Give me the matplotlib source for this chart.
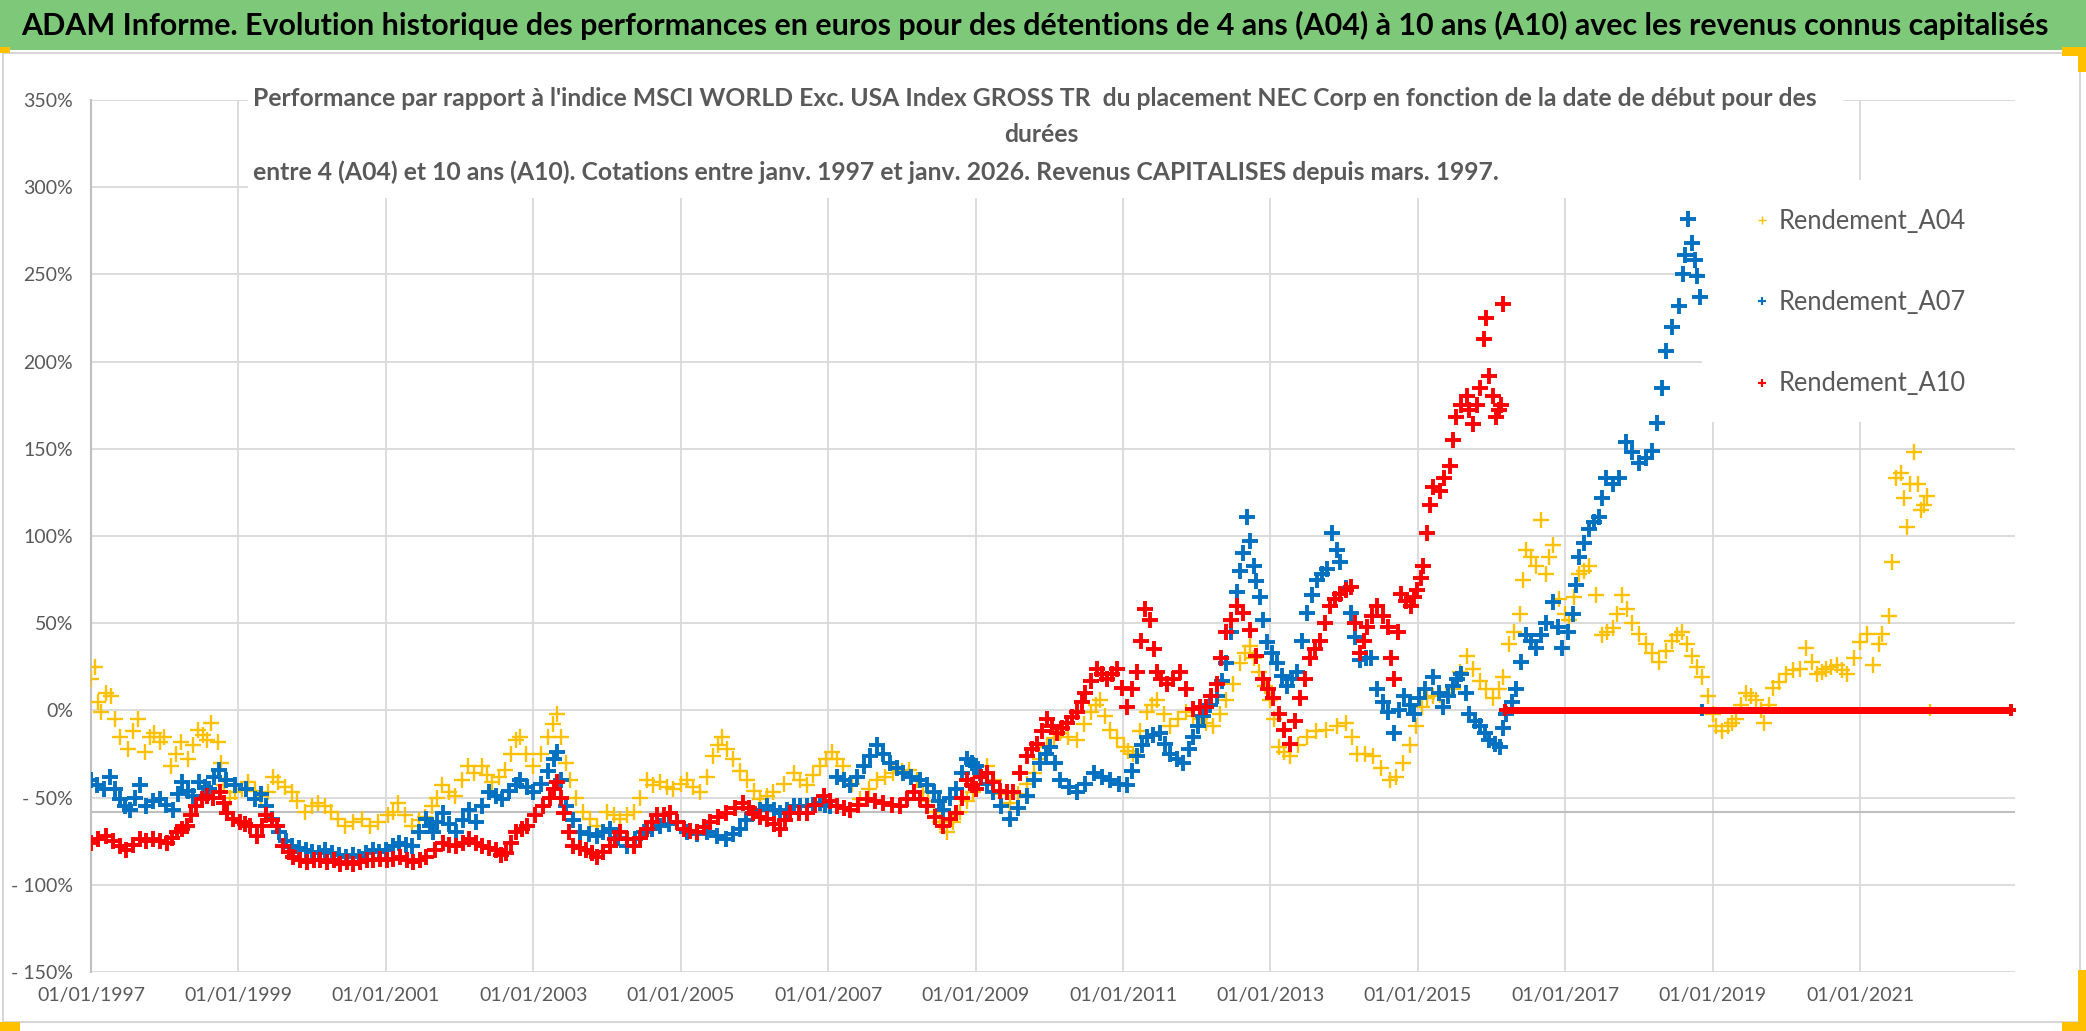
import numpy as np
import matplotlib
matplotlib.use('Agg')
import matplotlib.pyplot as plt
from matplotlib.lines import Line2D
from matplotlib.patches import Rectangle
from matplotlib.ticker import FixedLocator, FuncFormatter

plt.rcParams['font.family'] = ['Lato', 'DejaVu Sans']

# taille finale en pixels
W, H = 2086, 1031

# ---- données : (année décimale, performance en %)
a04_points = [
    (1997.00, 18), (1997.05, 25), (1997.10, 5), (1997.14, -1), (1997.20, 10), (1997.27, 8),
    (1997.33, -5), (1997.40, -15), (1997.50, -22), (1997.57, -12), (1997.64, -5), (1997.73, -24),
    (1997.80, -15), (1997.86, -13), (1997.93, -18), (1997.99, -15), (1998.08, -32), (1998.15, -25),
    (1998.22, -18), (1998.31, -28), (1998.38, -20), (1998.45, -11), (1998.52, -14), (1998.58, -17),
    (1998.63, -7), (1998.72, -18), (1998.77, -30), (1998.81, -43), (1998.88, -50), (1998.95, -47),
    (1999.05, -45), (1999.13, -41), (1999.22, -46), (1999.31, -49), (1999.40, -47), (1999.47, -38),
    (1999.54, -41), (1999.63, -44), (1999.72, -47), (1999.80, -52), (1999.90, -58), (2000.00, -55),
    (2000.08, -53), (2000.17, -55), (2000.26, -58), (2000.35, -62), (2000.44, -66), (2000.55, -64),
    (2000.67, -62), (2000.78, -66), (2000.90, -64), (2001.03, -60), (2001.10, -58), (2001.17, -53),
    (2001.26, -60), (2001.35, -66), (2001.45, -63), (2001.53, -61), (2001.62, -55), (2001.70, -50),
    (2001.76, -43), (2001.85, -47), (2001.94, -49), (2002.03, -40), (2002.12, -32), (2002.20, -36),
    (2002.30, -32), (2002.37, -37), (2002.44, -41), (2002.53, -38), (2002.62, -34), (2002.70, -25),
    (2002.76, -17), (2002.82, -15), (2002.90, -25), (2003.00, -32), (2003.10, -25), (2003.20, -15),
    (2003.27, -8), (2003.32, -2), (2003.38, -15), (2003.44, -30), (2003.50, -40), (2003.58, -50),
    (2003.68, -58), (2003.77, -62), (2003.86, -66), (2004.00, -58), (2004.09, -60), (2004.18, -62),
    (2004.27, -60), (2004.36, -58), (2004.45, -50), (2004.54, -40), (2004.63, -43), (2004.72, -41),
    (2004.81, -44), (2004.90, -45), (2005.00, -42), (2005.08, -40), (2005.17, -44), (2005.26, -47),
    (2005.35, -38), (2005.44, -26), (2005.50, -20), (2005.56, -15), (2005.63, -22), (2005.71, -28),
    (2005.80, -35), (2005.90, -40), (2006.00, -46), (2006.08, -51), (2006.17, -49), (2006.25, -47),
    (2006.40, -42), (2006.53, -36), (2006.62, -40), (2006.71, -43), (2006.80, -37), (2006.89, -32),
    (2006.97, -28), (2007.05, -24), (2007.12, -28), (2007.20, -32), (2007.32, -42), (2007.43, -51),
    (2007.55, -45), (2007.66, -40), (2007.77, -38), (2007.88, -36), (2008.00, -35), (2008.10, -34),
    (2008.20, -40), (2008.28, -47), (2008.36, -52), (2008.43, -58), (2008.52, -64), (2008.61, -70),
    (2008.70, -64), (2008.79, -58), (2008.88, -52), (2008.97, -47), (2009.06, -38), (2009.15, -32),
    (2009.25, -40), (2009.35, -48), (2009.47, -53), (2009.58, -48), (2009.70, -42), (2009.79, -36),
    (2009.88, -28), (2009.97, -21), (2010.06, -16), (2010.15, -13), (2010.25, -15), (2010.38, -17),
    (2010.47, -8), (2010.56, -1), (2010.63, 3), (2010.69, 6), (2010.76, -3), (2010.83, -11),
    (2010.92, -16), (2011.01, -21), (2011.07, -23), (2011.14, -25), (2011.23, -12), (2011.32, -1),
    (2011.39, 3), (2011.46, 6), (2011.55, -2), (2011.64, -9), (2011.75, -5), (2011.86, -1),
    (2011.95, -3), (2012.04, -5), (2012.13, -7), (2012.22, -9), (2012.31, -2), (2012.40, 6),
    (2012.49, 15), (2012.58, 27), (2012.65, 33), (2012.72, 37), (2012.78, 30), (2012.85, 22),
    (2012.92, 14), (2012.99, 6), (2013.05, -5), (2013.12, -21), (2013.19, -24), (2013.26, -26),
    (2013.37, -20), (2013.49, -15), (2013.62, -12), (2013.76, -11), (2013.90, -9), (2014.03, -7),
    (2014.10, -15), (2014.17, -25), (2014.28, -25), (2014.39, -26), (2014.50, -33), (2014.62, -40),
    (2014.70, -38), (2014.80, -30), (2014.89, -20), (2014.98, -9), (2015.06, 2), (2015.12, 7),
    (2015.21, 8), (2015.30, 9), (2015.39, 10), (2015.48, 12), (2015.57, 22), (2015.66, 31),
    (2015.75, 24), (2015.84, 17), (2015.93, 12), (2016.02, 7), (2016.10, 12), (2016.15, 19),
    (2016.24, 38), (2016.31, 45), (2016.38, 55), (2016.43, 75), (2016.47, 92), (2016.54, 88),
    (2016.60, 83), (2016.67, 109), (2016.74, 78), (2016.78, 88), (2016.83, 95), (2016.92, 64),
    (2017.00, 55), (2017.05, 52), (2017.12, 65), (2017.19, 78), (2017.26, 80), (2017.32, 83),
    (2017.41, 66), (2017.50, 43), (2017.57, 45), (2017.64, 47), (2017.70, 55), (2017.77, 66),
    (2017.84, 58), (2017.91, 50), (2018.00, 44), (2018.09, 38), (2018.18, 33), (2018.27, 28),
    (2018.36, 34), (2018.45, 40), (2018.52, 43), (2018.58, 45), (2018.65, 38), (2018.72, 31),
    (2018.79, 25), (2018.86, 19), (2018.93, 8), (2019.00, -2), (2019.05, -9), (2019.12, -12),
    (2019.20, -9), (2019.26, -7), (2019.32, -5), (2019.38, 3), (2019.45, 10), (2019.52, 8),
    (2019.59, 6), (2019.65, 0), (2019.70, -7), (2019.76, 3), (2019.82, 13), (2019.90, 16),
    (2020.00, 21), (2020.09, 23), (2020.18, 24), (2020.27, 36), (2020.34, 28), (2020.41, 21),
    (2020.48, 22), (2020.54, 24), (2020.61, 25), (2020.68, 26), (2020.75, 23), (2020.82, 21),
    (2020.91, 30), (2021.00, 39), (2021.09, 44), (2021.18, 26), (2021.25, 38), (2021.30, 44),
    (2021.39, 54), (2021.43, 85), (2021.48, 133), (2021.55, 136), (2021.60, 122), (2021.64, 105),
    (2021.68, 130), (2021.73, 148), (2021.78, 130), (2021.82, 115), (2021.87, 118), (2021.91, 123),
]

a07_points = [
    (1997.00, -40), (1997.08, -43), (1997.17, -45), (1997.26, -38), (1997.33, -45), (1997.39, -51),
    (1997.46, -55), (1997.53, -57), (1997.60, -50), (1997.66, -43), (1997.75, -55), (1997.84, -52),
    (1997.93, -51), (1998.02, -54), (1998.11, -57), (1998.18, -48), (1998.24, -41), (1998.31, -46),
    (1998.38, -49), (1998.47, -41), (1998.54, -44), (1998.60, -45), (1998.67, -38), (1998.74, -34),
    (1998.83, -40), (1998.96, -43), (1999.10, -45), (1999.23, -51), (1999.30, -48), (1999.37, -55),
    (1999.46, -62), (1999.55, -70), (1999.64, -75), (1999.73, -78), (1999.82, -79), (1999.91, -80),
    (2000.00, -81), (2000.09, -82), (2000.18, -80), (2000.27, -82), (2000.36, -83), (2000.46, -84),
    (2000.55, -83), (2000.64, -84), (2000.73, -82), (2000.82, -80), (2000.91, -81), (2001.00, -80),
    (2001.09, -78), (2001.18, -76), (2001.27, -77), (2001.36, -78), (2001.45, -70), (2001.55, -62),
    (2001.60, -66), (2001.64, -70), (2001.70, -64), (2001.77, -59), (2001.86, -65), (2001.95, -70),
    (2002.04, -63), (2002.13, -57), (2002.22, -64), (2002.31, -55), (2002.40, -47), (2002.49, -49),
    (2002.58, -51), (2002.67, -46), (2002.76, -43), (2002.82, -40), (2002.91, -44), (2003.00, -47),
    (2003.10, -42), (2003.20, -35), (2003.28, -28), (2003.32, -24), (2003.38, -40), (2003.45, -55),
    (2003.54, -63), (2003.63, -70), (2003.75, -71), (2003.86, -72), (2003.95, -70), (2004.04, -68),
    (2004.15, -73), (2004.27, -78), (2004.38, -74), (2004.50, -70), (2004.61, -68), (2004.72, -66),
    (2004.84, -65), (2004.95, -64), (2005.08, -70), (2005.22, -71), (2005.35, -70), (2005.49, -72),
    (2005.62, -74), (2005.71, -71), (2005.80, -68), (2005.89, -63), (2005.98, -59), (2006.08, -57),
    (2006.17, -55), (2006.26, -57), (2006.35, -59), (2006.44, -57), (2006.53, -55), (2006.62, -55),
    (2006.71, -55), (2006.80, -54), (2006.89, -53), (2006.96, -54), (2007.03, -55), (2007.12, -38),
    (2007.21, -40), (2007.30, -43), (2007.39, -38), (2007.48, -32), (2007.57, -26), (2007.66, -20),
    (2007.75, -25), (2007.84, -30), (2007.93, -33), (2008.02, -36), (2008.13, -38), (2008.25, -40),
    (2008.34, -43), (2008.43, -47), (2008.50, -52), (2008.56, -57), (2008.65, -50), (2008.74, -45),
    (2008.81, -36), (2008.88, -28), (2008.95, -30), (2009.01, -32), (2009.06, -36), (2009.15, -42),
    (2009.24, -47), (2009.35, -55), (2009.47, -62), (2009.58, -56), (2009.70, -49), (2009.79, -40),
    (2009.88, -30), (2009.95, -25), (2010.01, -21), (2010.08, -30), (2010.15, -40), (2010.27, -44),
    (2010.38, -47), (2010.49, -42), (2010.60, -36), (2010.72, -38), (2010.83, -40), (2010.94, -42),
    (2011.05, -43), (2011.12, -35), (2011.19, -26), (2011.26, -20), (2011.32, -15), (2011.41, -14),
    (2011.50, -13), (2011.57, -19), (2011.64, -25), (2011.73, -28), (2011.82, -30), (2011.89, -22),
    (2011.95, -15), (2012.02, -9), (2012.09, -3), (2012.18, 3), (2012.27, 8), (2012.34, 17),
    (2012.40, 27), (2012.47, 45), (2012.54, 68), (2012.59, 80), (2012.63, 90), (2012.68, 111),
    (2012.72, 97), (2012.77, 83), (2012.81, 74), (2012.86, 65), (2012.90, 52), (2012.95, 39),
    (2013.02, 33), (2013.09, 27), (2013.15, 20), (2013.22, 14), (2013.29, 18), (2013.36, 22),
    (2013.43, 40), (2013.50, 56), (2013.57, 66), (2013.63, 75), (2013.70, 78), (2013.77, 81),
    (2013.84, 102), (2013.90, 92), (2013.95, 85), (2014.02, 70), (2014.09, 56), (2014.15, 42),
    (2014.22, 29), (2014.29, 30), (2014.36, 30), (2014.45, 12), (2014.52, 5), (2014.59, -1),
    (2014.68, -13), (2014.75, 0), (2014.81, 8), (2014.89, 3), (2014.95, -2), (2015.02, 7),
    (2015.10, 12), (2015.21, 19), (2015.28, 10), (2015.34, 2), (2015.41, 8), (2015.48, 14),
    (2015.53, 18), (2015.59, 21), (2015.65, 10), (2015.70, -2), (2015.77, -6), (2015.84, -9),
    (2015.91, -13), (2015.97, -17), (2016.04, -19), (2016.11, -21), (2016.15, -10), (2016.20, -2),
    (2016.27, 5), (2016.33, 12), (2016.40, 28), (2016.47, 43), (2016.54, 40), (2016.60, 36),
    (2016.67, 43), (2016.74, 50), (2016.83, 62), (2016.90, 48), (2016.96, 36), (2017.03, 45),
    (2017.10, 55), (2017.15, 72), (2017.19, 88), (2017.26, 96), (2017.32, 104), (2017.39, 108),
    (2017.46, 111), (2017.50, 122), (2017.55, 133), (2017.64, 130), (2017.73, 133), (2017.82, 154),
    (2017.91, 148), (2018.00, 142), (2018.09, 145), (2018.18, 149), (2018.25, 165), (2018.31, 185),
    (2018.36, 206), (2018.45, 220), (2018.54, 232), (2018.60, 250), (2018.63, 261), (2018.67, 282),
    (2018.72, 268), (2018.76, 258), (2018.79, 249), (2018.83, 237),
]

a10_points = [
    (1997.00, -76), (1997.10, -74), (1997.21, -72), (1997.30, -75), (1997.39, -78), (1997.48, -80),
    (1997.57, -77), (1997.66, -74), (1997.75, -75), (1997.84, -74), (1997.93, -75), (1998.03, -76),
    (1998.10, -73), (1998.16, -70), (1998.23, -68), (1998.30, -66), (1998.36, -60), (1998.43, -55),
    (1998.50, -51), (1998.57, -49), (1998.66, -50), (1998.75, -47), (1998.80, -53), (1998.84, -59),
    (1998.93, -62), (1999.02, -64), (1999.09, -65), (1999.16, -66), (1999.25, -72), (1999.32, -66),
    (1999.38, -60), (1999.45, -63), (1999.52, -66), (1999.61, -78), (1999.68, -81), (1999.74, -84),
    (1999.84, -86), (1999.93, -87), (2000.02, -86), (2000.11, -86), (2000.20, -87), (2000.29, -86),
    (2000.38, -88), (2000.47, -87), (2000.56, -88), (2000.65, -87), (2000.74, -86), (2000.83, -86),
    (2000.92, -85), (2001.01, -86), (2001.10, -85), (2001.19, -84), (2001.28, -86), (2001.37, -87),
    (2001.46, -86), (2001.55, -84), (2001.66, -80), (2001.77, -76), (2001.86, -77), (2001.95, -78),
    (2002.04, -76), (2002.13, -74), (2002.22, -76), (2002.31, -78), (2002.40, -79), (2002.49, -80),
    (2002.56, -83), (2002.63, -82), (2002.70, -76), (2002.76, -70), (2002.84, -68), (2002.91, -66),
    (2003.02, -60), (2003.13, -55), (2003.22, -50), (2003.28, -45), (2003.32, -41), (2003.37, -50),
    (2003.41, -59), (2003.48, -70), (2003.54, -78), (2003.63, -79), (2003.72, -80), (2003.79, -82),
    (2003.86, -84), (2003.95, -81), (2004.04, -78), (2004.11, -74), (2004.18, -70), (2004.27, -74),
    (2004.36, -78), (2004.45, -73), (2004.54, -68), (2004.61, -64), (2004.68, -60), (2004.77, -60),
    (2004.86, -59), (2004.95, -64), (2005.04, -68), (2005.13, -69), (2005.22, -70), (2005.31, -67),
    (2005.40, -64), (2005.51, -61), (2005.62, -59), (2005.73, -56), (2005.85, -53), (2005.92, -56),
    (2005.98, -59), (2006.08, -61), (2006.17, -62), (2006.26, -65), (2006.35, -68), (2006.42, -63),
    (2006.48, -59), (2006.60, -59), (2006.71, -59), (2006.82, -54), (2006.94, -49), (2007.03, -52),
    (2007.12, -55), (2007.21, -56), (2007.30, -57), (2007.41, -54), (2007.53, -51), (2007.64, -52),
    (2007.75, -53), (2007.87, -54), (2007.98, -55), (2008.07, -51), (2008.16, -47), (2008.25, -51),
    (2008.34, -55), (2008.45, -61), (2008.56, -66), (2008.65, -62), (2008.74, -59), (2008.81, -50),
    (2008.88, -40), (2008.95, -43), (2009.01, -45), (2009.08, -38), (2009.15, -36), (2009.24, -41),
    (2009.33, -46), (2009.42, -47), (2009.51, -47), (2009.60, -36), (2009.70, -26), (2009.77, -22),
    (2009.83, -19), (2009.90, -12), (2009.97, -5), (2010.04, -9), (2010.10, -13), (2010.17, -10),
    (2010.24, -7), (2010.31, -4), (2010.38, -1), (2010.44, 5), (2010.49, 10), (2010.57, 17),
    (2010.65, 24), (2010.72, 21), (2010.78, 18), (2010.85, 21), (2010.92, 24), (2010.98, 13),
    (2011.05, 2), (2011.12, 12), (2011.19, 22), (2011.25, 40), (2011.30, 58), (2011.37, 52),
    (2011.42, 35), (2011.46, 22), (2011.52, 18), (2011.59, 15), (2011.68, 18), (2011.77, 22),
    (2011.86, 12), (2011.95, 1), (2012.04, 2), (2012.13, 2), (2012.20, 8), (2012.27, 15),
    (2012.33, 30), (2012.40, 45), (2012.47, 52), (2012.54, 60), (2012.63, 56), (2012.72, 46),
    (2012.81, 31), (2012.90, 18), (2012.97, 12), (2013.04, 7), (2013.11, -2), (2013.18, -11),
    (2013.26, -19), (2013.33, -6), (2013.40, 7), (2013.47, 18), (2013.54, 30), (2013.60, 35),
    (2013.67, 40), (2013.74, 50), (2013.81, 60), (2013.88, 64), (2013.95, 67), (2014.02, 69),
    (2014.09, 71), (2014.15, 50), (2014.22, 33), (2014.27, 40), (2014.31, 48), (2014.38, 54),
    (2014.45, 60), (2014.52, 54), (2014.59, 48), (2014.64, 30), (2014.68, 18), (2014.73, 45),
    (2014.77, 67), (2014.84, 63), (2014.90, 60), (2014.95, 65), (2014.99, 69), (2015.04, 76),
    (2015.07, 83), (2015.12, 102), (2015.17, 118), (2015.21, 128), (2015.30, 126), (2015.36, 133),
    (2015.43, 140), (2015.48, 155), (2015.52, 168), (2015.59, 175), (2015.66, 180), (2015.70, 172),
    (2015.75, 164), (2015.80, 175), (2015.84, 185), (2015.90, 213), (2015.93, 225), (2015.97, 192),
    (2016.02, 180), (2016.06, 168), (2016.10, 172), (2016.13, 175), (2016.15, 233),
]

# après la dernière valeur connue, chaque série vaut 0 %
a04_zero_from = 2021.95
a07_zero_from = 2018.86
a10_zero_from = 2016.18
series_end = 2023.05

labels = ['Rendement_A04', 'Rendement_A07', 'Rendement_A10']
colors = ['#FFC000', '#0070C0', '#FF0000']
year_ticks = list(range(1997, 2022, 2))
pct_ticks = [-150, -100, -50, 0, 50, 100, 150, 200, 250, 300, 350]

header = ("ADAM Informe. Evolution historique des performances en euros pour des détentions "
          "de 4 ans (A04) à 10 ans (A10) avec les revenus connus capitalisés")
sub1 = ("Performance par rapport à l'indice MSCI WORLD Exc. USA Index GROSS TR  du placement "
        "NEC Corp en fonction de la date de début pour des")
sub2 = "durées"
sub3 = ("entre 4 (A04) et 10 ans (A10). Cotations entre janv. 1997 et janv. 2026. "
        "Revenus CAPITALISES depuis mars. 1997.")


def fx(x):
    return x / W


def fy(y):
    return 1 - y / H


fig = plt.figure(figsize=(W / 100, H / 100), dpi=100)
fig.patch.set_facecolor('white')

# bandeau vert du haut
fig.patches.append(Rectangle((0, fy(50)), 1, 50 / H, transform=fig.transFigure,
                             facecolor='#7ec87a', edgecolor='none', zorder=0))
# cadre du graphique
fig.patches.append(Rectangle((fx(3), fy(1022)), fx(2077), (1022 - 53) / H, transform=fig.transFigure,
                             facecolor='none', edgecolor='#d0d0d0', lw=1.2, zorder=1))
# poignées de sélection
for (x0, y0, w, h) in [(0, 1022, 20, 9), (0, 47, 10, 6), (2062, 47, 24, 9), (2078, 47, 8, 25),
                       (2062, 1022, 24, 9), (2078, 970, 8, 61)]:
    fig.patches.append(Rectangle((fx(x0), fy(y0 + h)), w / W, h / H, transform=fig.transFigure,
                                 facecolor='#FFC000', edgecolor='none', zorder=2))

ax = fig.add_axes([fx(91), fy(972), (2015 - 91) / W, (972 - 100) / H])
ax.set_xlim(1997.0, 2023.1)
ax.set_ylim(-1.5, 3.5)
ax.set_axisbelow(True)
ax.grid(True, color='#d9d9d9', lw=1.3)

ax.xaxis.set_major_locator(FixedLocator(year_ticks))
ax.xaxis.set_major_formatter(FuncFormatter(lambda v, p: f"01/01/{int(round(v))}"))
ax.yaxis.set_major_locator(FixedLocator([v / 100 for v in pct_ticks]))


def pct_fmt(v, p):
    n = int(round(v * 100))
    return f"- {abs(n)}%" if n < 0 else f"{n}%"


ax.yaxis.set_major_formatter(FuncFormatter(pct_fmt))
ax.tick_params(axis='both', length=0, labelsize=14, labelcolor='#595959')
ax.tick_params(axis='y', pad=13)
ax.tick_params(axis='x', pad=11)
for s in ['top', 'right', 'bottom']:
    ax.spines[s].set_visible(False)
ax.spines['left'].set_color('#bfbfbf')
ax.spines['left'].set_linewidth(1.5)

# ligne de l'axe horizontal (croise vers -58 %)
ax.axhline(-0.58, color='#bfbfbf', lw=1.5, zorder=1)

# rectangles blancs derrière le titre et la légende
ax.add_patch(Rectangle((fx(248), fy(198)), (1843 - 248) / W, (198 - 60) / H, transform=fig.transFigure,
                       facecolor='white', edgecolor='none', zorder=1, clip_on=False))
ax.add_patch(Rectangle((fx(1702), fy(422)), (2015 - 1702) / W, (422 - 180) / H, transform=fig.transFigure,
                       facecolor='white', edgecolor='none', zorder=1, clip_on=False))

# nuages de croix, comme dans le graphique d'origine
series = [(a04_points, a04_zero_from, 1.7, 12), (a07_points, a07_zero_from, 2.8, 11),
          (a10_points, a10_zero_from, 2.8, 11)]
for (pts, zero_from, mew, ms), col in zip(series, colors):
    t, v = zip(*pts)
    ax.plot(t, np.array(v) / 100, ls='none', marker='+', ms=ms, mew=mew, color=col, zorder=3)
    ax.plot([zero_from, series_end], [0, 0], ls='-', lw=5, marker='+', ms=8, mew=mew,
            color=col, zorder=3, solid_capstyle='butt')

# textes
renderer = fig.canvas.get_renderer()


def fit(txt, target):
    w = txt.get_window_extent(renderer).width
    txt.set_fontsize(txt.get_fontsize() * target / w)


t_head = fig.text(fx(1035), fy(25), header, ha='center', va='center', fontsize=20,
                  fontweight='bold', color='black')
fit(t_head, 2023)

t1 = fig.text(fx(253), fy(98), sub1, ha='left', va='center', fontsize=14,
              fontweight='bold', color='#595959')
fit(t1, 1576)
fs_sub = t1.get_fontsize()
fig.text(fx(1041), fy(135), sub2, ha='center', va='center', fontsize=fs_sub,
         fontweight='bold', color='#595959')
fig.text(fx(253), fy(172), sub3, ha='left', va='center', fontsize=fs_sub,
         fontweight='bold', color='#595959')

# légende
probe = fig.text(0, 0, labels[0], fontsize=18)
fit(probe, 188)
fs_leg = probe.get_fontsize()
probe.remove()

handles = [Line2D([], [], ls='none', marker='+', ms=6, mew=1.5 if i else 1.0, color=c)
           for i, c in enumerate(colors)]
leg = fig.legend(handles, labels, loc='upper left', bbox_to_anchor=(fx(1754), fy(209)),
                 frameon=False, fontsize=fs_leg, labelcolor='#595959', handlelength=0.6,
                 handletextpad=0.35, labelspacing=2.2, borderaxespad=0, borderpad=0)

fig.savefig('out.png', dpi=100)
